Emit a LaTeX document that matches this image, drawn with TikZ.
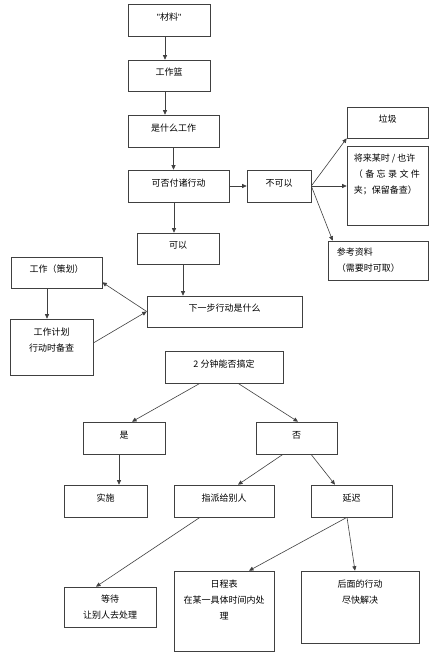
\documentclass[tikz,border=0pt]{standalone}
\usepackage{fontspec}
\setmainfont{Noto Sans CJK SC}
\newfontfamily\latinfont{Liberation Sans}
\usetikzlibrary{arrows.meta}

\begin{document}
\begin{tikzpicture}[x=1pt, y=-1pt,
  box/.style={draw=black!75, line width=0.6pt, rectangle, inner sep=0pt, font=\fontsize{9}{16}\selectfont},
  onebox/.style={box, text height=7pt, text depth=6.5pt},
  arr/.style={-{Triangle[length=4.5pt,width=4pt]}, draw=black!75, line width=0.6pt},
  toptext/.style={anchor=north, align=center, yshift=-9pt, inner sep=0pt, font=\fontsize{9}{16}\selectfont}]

\useasboundingbox[fill=white] (0,0) rectangle (438,660);

% upper part
\node[onebox, minimum width=82pt, minimum height=32pt] (mat)    at (169,20)    {{\latinfont\char34}材料{\latinfont\char34}};
\node[onebox, minimum width=82pt, minimum height=31pt] (basket) at (169,75.5)  {工作篮};
\node[onebox, minimum width=91pt, minimum height=32pt] (what)   at (173.5,131) {是什么工作};
\node[onebox, minimum width=101pt, minimum height=32pt] (act)   at (178.5,186) {可否付诸行动};
\node[onebox, minimum width=64pt, minimum height=32pt] (cannot) at (279,186)   {不可以};
\node[onebox, minimum width=81pt, minimum height=31pt] (trash)  at (387.5,122.5) {垃圾};
\node[box, minimum width=81pt, minimum height=79pt,
  label={[toptext, anchor=north west, align=left, xshift=7pt, yshift=1pt]north west:{将来某时 / 也许\\
  \makebox[66pt][s]{（\hfill 备\hfill 忘\hfill 录\hfill 文\hfill 件}\\夹；保留备查）}}] (later) at (387.5,185.5) {};
\node[box, minimum width=100pt, minimum height=39pt,
  label={[anchor=west, align=left, xshift=9pt, inner sep=0pt, font=\fontsize{9}{16}\selectfont]west:{参考资料\\（需要时可取）}}] (ref) at (378,260.5) {};
\node[onebox, minimum width=82pt, minimum height=31pt] (can)    at (178,248.5) {可以};
\node[onebox, minimum width=155pt, minimum height=31pt] (next)  at (224.5,311.5) {下一步行动是什么};
\node[onebox, minimum width=91pt, minimum height=31pt] (plan)   at (56.5,272.5) {工作（策划）};
\node[box, minimum width=83pt, minimum height=56pt,
  label={[toptext]north:{工作计划\\行动时备查}}] (work) at (51.5,347) {};

% lower part
\node[onebox, minimum width=118pt, minimum height=32pt] (two)   at (224,367)   {2 分钟能否搞定};
\node[onebox, minimum width=82pt, minimum height=32pt] (yes)    at (124,438)   {是};
\node[onebox, minimum width=81pt, minimum height=32pt] (nope)   at (296.5,438) {否};
\node[onebox, minimum width=83pt, minimum height=32pt] (doit)   at (105.5,501) {实施};
\node[onebox, minimum width=100pt, minimum height=32pt] (deleg) at (224,501)   {指派给别人};
\node[onebox, minimum width=81pt, minimum height=32pt] (defer)  at (351.5,501) {延迟};
\node[box, minimum width=92pt, minimum height=40pt, align=center] (wait) at (110,607) {等待\\让别人去处理};
\node[box, minimum width=100pt, minimum height=80pt,
  label={[toptext]north:{日程表\\在某一具体时间内处\\理}}] (sched) at (224,611) {};
\node[box, minimum width=118pt, minimum height=72pt,
  label={[toptext]north:{后面的行动\\尽快解决}}] (asap) at (360,607) {};

% connectors
\draw[arr] ([xshift=-4pt]mat.south) -- ([xshift=-4pt]basket.north);
\draw[arr] ([xshift=-4pt]basket.south) -- ([xshift=-4pt]basket.south |- what.north);
\draw[arr] (what.south) -- (what.south |- act.north);
\draw[arr] ([xshift=-4.5pt]act.south) -- ([xshift=-4pt]can.north);
\draw[arr] ([xshift=5pt]can.south) -- ([xshift=5pt]can.south |- next.north);
\draw[arr] (act.east) -- (cannot.west);
\draw[arr] (cannot.east) -- (trash.south west);
\draw[arr] (cannot.east) -- (cannot.east -| later.west);
\draw[arr] (cannot.east) -- ([xshift=5pt]ref.north west);
\draw[arr] (next.west) -- ([yshift=6pt]plan.south east);
\draw[arr] ([xshift=-9.5pt]plan.south) -- ([xshift=-9.5pt]plan.south |- work.north);
\draw[arr] ([yshift=4pt]work.east) -- (next.west);

\draw[arr] ([xshift=-24pt]two.south) -- ([xshift=8pt]yes.north);
\draw[arr] ([xshift=14pt]two.south) -- ([xshift=1.5pt]nope.north);
\draw[arr] ([xshift=-5pt]yes.south) -- ([xshift=-5pt]yes.south |- doit.north);
\draw[arr] ([xshift=-13.5pt]nope.south) -- ([xshift=14pt]deleg.north);
\draw[arr] ([xshift=14.5pt]nope.south) -- ([xshift=-16.5pt]defer.north);
\draw[arr] ([xshift=-24pt]deleg.south) -- ([xshift=-14pt]wait.north);
\draw[arr] ([xshift=-4.5pt]defer.south) -- ([xshift=25pt]sched.north);
\draw[arr] ([xshift=-4.5pt]defer.south) -- ([xshift=-5pt]asap.north);

\end{tikzpicture}
\end{document}
